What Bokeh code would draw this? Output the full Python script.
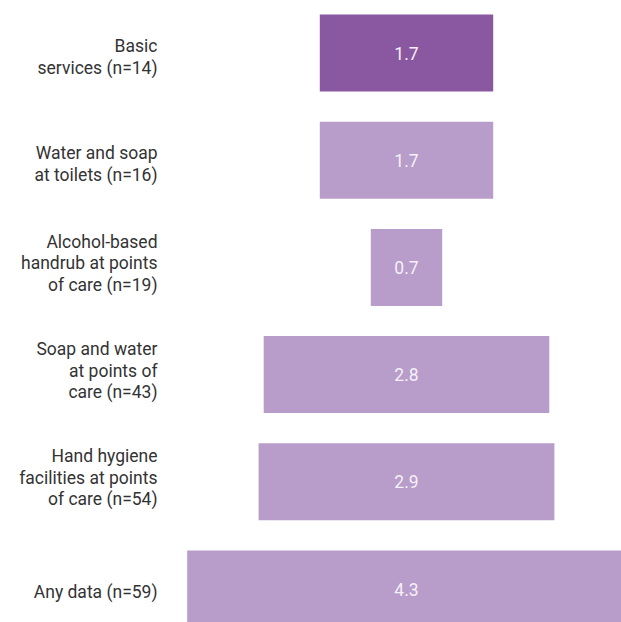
from bokeh.plotting import figure
from bokeh.models import Range1d, ColumnDataSource
from bokeh.core.properties import value
from bokeh.embed import file_html
from bokeh.resources import INLINE

categories = [
    "Basic\nservices (n=14)",
    "Water and soap\nat toilets (n=16)",
    "Alcohol-based\nhandrub at points\nof care (n=19)",
    "Soap and water\nat points of\ncare (n=43)",
    "Hand hygiene\nfacilities at points\nof care (n=54)",
    "Any data (n=59)",
]
values = [1.7, 1.7, 0.7, 2.8, 2.9, 4.3]
value_labels = ["1.7", "1.7", "0.7", "2.8", "2.9", "4.3"]
colors = ["#8a58a0", "#b89cc9", "#b89cc9", "#b89cc9", "#b89cc9", "#b89cc9"]

W, H = 621, 622
kx = 102.0
ky = 107.2
x_start = -406 / kx
x_end = x_start + W / kx
y_top = -52.5 / ky
y_bot = y_top + H / ky

n = len(values)
line_offsets = {1: -3, 2: -4, 3: 4}
src = ColumnDataSource(dict(
    y=list(range(n)),
    l=[-v / 2 for v in values],
    r=[v / 2 for v in values],
    c=colors, lab=value_labels, cat=categories,
    lx=[(157 - 406) / kx] * n,
    ly=[i - line_offsets[c.count("\n") + 1] / ky for i, c in enumerate(categories)],
))

p = figure(width=W, height=H, output_backend="svg", toolbar_location=None,
           x_range=Range1d(x_start, x_end), y_range=Range1d(y_bot, y_top),
           min_border=0, outline_line_color=None)
p.axis.visible = False
p.grid.visible = False
p.background_fill_color = "white"
p.border_fill_color = "white"

p.hbar(y="y", height=0.718, left="l", right="r", source=src, fill_color="c", line_color=None)

p.text(x=0, y="y", text="lab", source=src, text_align="center", text_baseline="middle",
       text_color="#f5f0f8", text_font=value("Roboto"), text_font_size="17.5px")

p.text(x="lx", y="ly", text="cat", source=src, text_align="right", text_baseline="middle",
       text_color="#333333", text_font=value("Roboto"), text_font_size="17.5px",
       text_line_height=1.08)

open("out.html", "w").write(file_html(p, INLINE))
